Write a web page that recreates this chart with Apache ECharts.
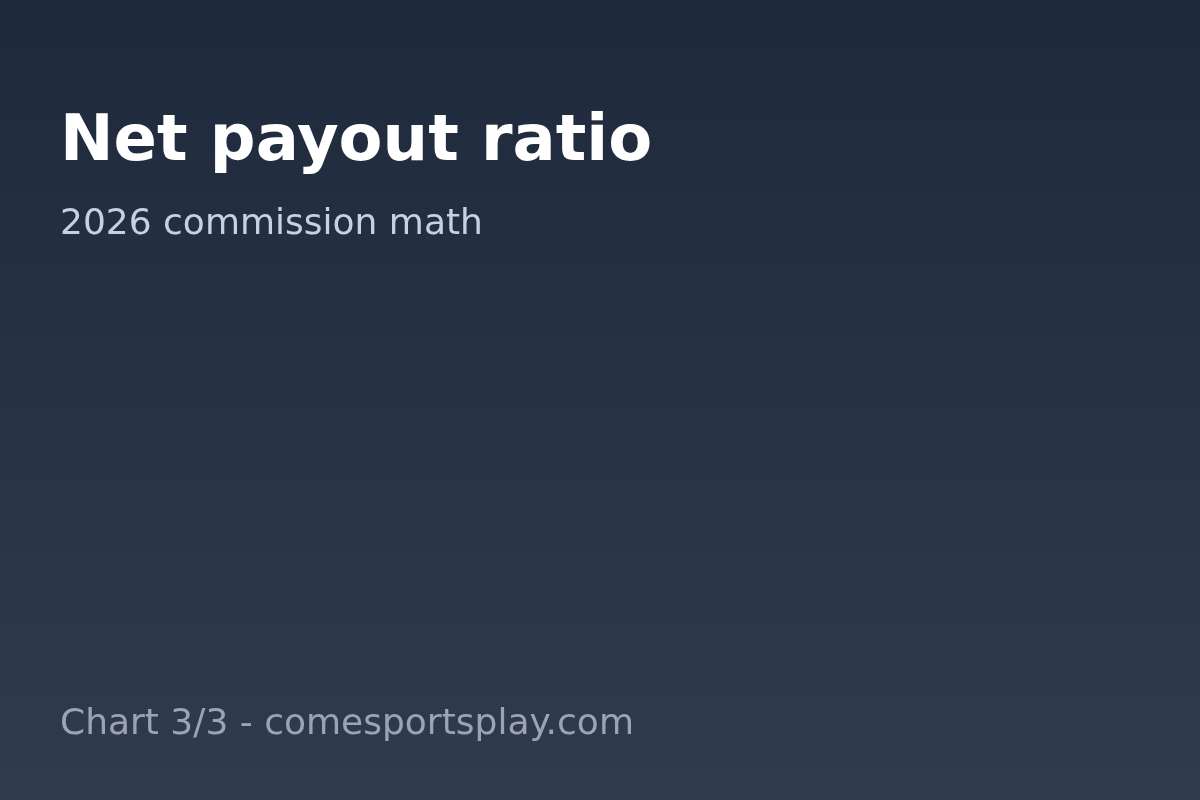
<!DOCTYPE html>
<html>
<head>
<meta charset="utf-8">
<script src="https://cdn.jsdelivr.net/npm/echarts@6/dist/echarts.min.js"></script>
<style>
  html, body { margin: 0; padding: 0; }
  #chart { width: 1200px; height: 800px; }
</style>
</head>
<body>
<div id="chart"></div>
<script>
// Text for the card (this chart carries no plotted series)
const titleText = 'Net payout ratio'
const subtitleText = '2026 commission math'
const footerText = 'Chart 3/3 - comesportsplay.com'

const chart = echarts.init(document.getElementById('chart'))

const option = {
  backgroundColor: new echarts.graphic.LinearGradient(0, 0, 0, 1, [
    { offset: 0, color: '#1e293b' },
    { offset: 1, color: '#303b4e' },
  ]),
  graphic: [
    {
      type: 'text',
      left: 60,
      top: 111,
      style: {
        text: titleText,
        fill: '#ffffff',
        font: 'bold 64px "DejaVu Sans"',
      },
    },
    {
      type: 'text',
      left: 60,
      top: 207,
      style: {
        text: subtitleText,
        fill: '#c9d0e0',
        font: '36px "DejaVu Sans"',
      },
    },
    {
      type: 'text',
      left: 60,
      top: 707,
      style: {
        text: footerText,
        fill: '#9ca3b5',
        font: '36px "DejaVu Sans"',
      },
    },
  ],
}

chart.setOption(option)
</script>
</body>
</html>
